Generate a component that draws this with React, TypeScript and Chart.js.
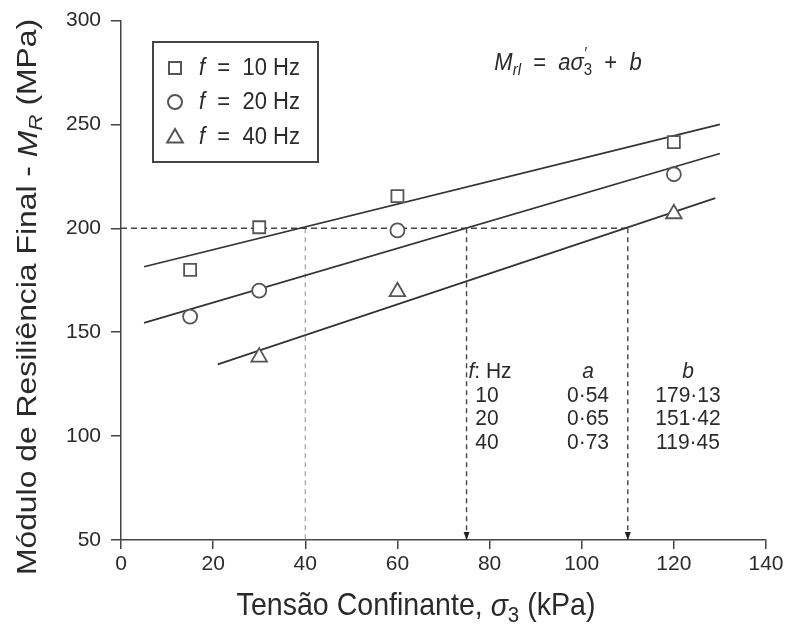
import React, { useEffect, useRef } from "react";
import { Chart, registerables } from "chart.js";

Chart.register(...registerables);

// ---- data ----
const sigma10 = [15, 30, 60, 120];
const mr10 = [180, 200.5, 215.5, 241.5];
const sigma20 = [15, 30, 60, 120];
const mr20 = [157.5, 170, 199, 226];
const sigma40 = [30, 60, 120];
const mr40 = [138, 169.5, 207];

const fit10X = [5, 130];
const fit10Y = [181.5, 250];
const fit20X = [5, 130];
const fit20Y = [154.5, 236];
const fit40X = [21, 129];
const fit40Y = [134.5, 214.5];

const guideLevel = 200;
const guideHX = [0, 110];
const guideVX = [40, 75, 110];
const axisMinY = 50;

const xTicks = [0, 20, 40, 60, 80, 100, 120, 140];
const yTicks = [50, 100, 150, 200, 250, 300];

const legendLabels = ["10", "20", "40"];
const tableF = ["10", "20", "40"];
const tableA = ["0·54", "0·65", "0·73"];
const tableB = ["179·13", "151·42", "119·45"];

const FONT = "'Liberation Sans', Arial, Helvetica, sans-serif";
const INK = "#2a2a2a";
const AXIS = "#444";
const MARK = "#555";

type Seg = { t: string; i?: boolean; sub?: boolean; sup?: boolean; stay?: boolean };

function segFont(s: Seg, size: number) {
  const sz = s.sub || s.sup ? Math.round(size * 0.7) : size;
  return `${s.i ? "italic " : ""}${sz}px ${FONT}`;
}

function drawRich(
  ctx: CanvasRenderingContext2D,
  segs: Seg[],
  x: number,
  y: number,
  size: number,
  align: "left" | "center" = "center",
  sx = 1,
  sy = 1
) {
  let w = 0;
  const widths = segs.map((s) => {
    ctx.font = segFont(s, size);
    const m = s.stay ? 0 : ctx.measureText(s.t).width;
    w += m;
    return m;
  });
  ctx.save();
  ctx.translate(x, y);
  ctx.scale(sx, sy);
  let cx = align === "center" ? -w / 2 : 0;
  ctx.textAlign = "left";
  ctx.textBaseline = "middle";
  segs.forEach((s, k) => {
    ctx.font = segFont(s, size);
    let dy = 0;
    if (s.sub) dy = size * 0.3;
    if (s.sup) dy = -size * 0.35;
    ctx.fillText(s.t, cx, dy);
    cx += widths[k];
  });
  ctx.restore();
}

function marker(ctx: CanvasRenderingContext2D, style: string, r: number, x: number, y: number) {
  ctx.beginPath();
  if (style === "rect") {
    const h = r * Math.SQRT1_2;
    ctx.rect(x - h, y - h, 2 * h, 2 * h);
  } else if (style === "circle") {
    ctx.arc(x, y, r, 0, Math.PI * 2);
  } else {
    for (let k = 0; k < 3; k++) {
      const a = -Math.PI / 2 + (k * 2 * Math.PI) / 3;
      const px = x + Math.cos(a) * r;
      const py = y + Math.sin(a) * r;
      if (k === 0) ctx.moveTo(px, py);
      else ctx.lineTo(px, py);
    }
    ctx.closePath();
  }
  ctx.fill();
  ctx.stroke();
}

const pairs = (xs: number[], ys: number[]) => xs.map((x, k) => ({ x, y: ys[k] }));

const annotations = {
  id: "annotations",
  afterDraw(chart: any) {
    const ctx: CanvasRenderingContext2D = chart.ctx;
    const xs = chart.scales.x;
    const ys = chart.scales.y;
    ctx.save();
    ctx.fillStyle = INK;

    // arrowheads on the vertical guides
    guideVX.slice(1).forEach((v) => {
      const px = xs.getPixelForValue(v);
      const py = ys.getPixelForValue(axisMinY);
      ctx.beginPath();
      ctx.moveTo(px, py);
      ctx.lineTo(px - 3, py - 8);
      ctx.lineTo(px + 3, py - 8);
      ctx.closePath();
      ctx.fillStyle = "#222";
      ctx.fill();
    });
    ctx.fillStyle = INK;

    // y title
    ctx.save();
    ctx.translate(29, 297);
    ctx.rotate(-Math.PI / 2);
    drawRich(
      ctx,
      [
        { t: "Módulo de Resiliência Final - " },
        { t: "M", i: true },
        { t: "R", i: true, sub: true },
        { t: " (MPa)" },
      ],
      0,
      0,
      27,
      "center",
      1.18,
      1
    );
    ctx.restore();

    // x title
    drawRich(
      ctx,
      [
        { t: "Tensão Confinante, " },
        { t: "σ", i: true },
        { t: "3", sub: true },
        { t: " (kPa)" },
      ],
      416,
      607,
      28,
      "center",
      1.02,
      1.1
    );

    // legend box
    ctx.strokeStyle = AXIS;
    ctx.lineWidth = 2;
    ctx.strokeRect(153, 42, 165, 120);
    const ly = [68, 102, 137];
    const styles = ["rect", "circle", "triangle"];
    const radii = [8.5, 7, 9];
    styles.forEach((st, k) => {
      ctx.save();
      ctx.strokeStyle = MARK;
      ctx.fillStyle = "#fff";
      ctx.lineWidth = 2;
      marker(ctx, st, radii[k], 175, ly[k] + (st === "triangle" ? 1 : 0));
      ctx.restore();
      ctx.fillStyle = INK;
      drawRich(
        ctx,
        [{ t: "f", i: true }, { t: "  =  " }, { t: legendLabels[k] + " Hz" }],
        199,
        ly[k],
        22,
        "left",
        1,
        1.08
      );
    });

    // equation
    drawRich(
      ctx,
      [
        { t: "M", i: true },
        { t: "rl", i: true, sub: true },
        { t: "  =  " },
        { t: "aσ", i: true },
        { t: "′", i: true, sup: true, stay: true },
        { t: "3", sub: true },
        { t: "  +  " },
        { t: "b", i: true },
      ],
      568,
      63,
      22,
      "center",
      1,
      1.08
    );

    // table
    const colF = 490;
    const colA = 588;
    const colB = 688;
    drawRich(ctx, [{ t: "f", i: true }, { t: ": Hz" }], colF, 372, 21, "center", 1, 1.08);
    drawRich(ctx, [{ t: "a", i: true }], colA, 372, 21, "center", 1, 1.08);
    drawRich(ctx, [{ t: "b", i: true }], colB, 372, 21, "center", 1, 1.08);
    const rowsY = [396, 419, 443];
    rowsY.forEach((ry, k) => {
      drawRich(ctx, [{ t: tableF[k] }], colF - 3, ry, 21, "center", 1, 1.08);
      drawRich(ctx, [{ t: tableA[k] }], colA, ry, 21, "center", 1, 1.08);
      drawRich(ctx, [{ t: tableB[k] }], colB, ry, 21, "center", 1, 1.08);
    });

    ctx.restore();
  },
};

export default function App() {
  const ref = useRef<HTMLCanvasElement>(null);
  useEffect(() => {
    if (!ref.current) return;
    const lineDs = (xs: number[], ys: number[]) => ({
      type: "line" as const,
      data: pairs(xs, ys),
      borderColor: "#333",
      borderWidth: 1.7,
      pointRadius: 0,
      order: 5,
    });
    const guideV = (x: number, k: number) => ({
      type: "line" as const,
      data: [
        { x, y: guideLevel },
        { x, y: axisMinY },
      ],
      borderColor: k === 0 ? "#a0a0a0" : "#444",
      borderWidth: k === 0 ? 1.2 : 1.4,
      borderDash: [5, 4],
      pointRadius: 0,
      order: 6,
    });
    const scatterDs = (xs: number[], ys: number[], style: string, r: number) => ({
      type: "scatter" as const,
      data: pairs(xs, ys),
      pointStyle: style,
      pointRadius: r,
      pointBorderColor: MARK,
      pointBackgroundColor: "#fff",
      pointBorderWidth: 1.8,
      order: 1,
    });
    const chart = new Chart(ref.current, {
      type: "scatter",
      data: {
        datasets: [
          lineDs(fit10X, fit10Y),
          lineDs(fit20X, fit20Y),
          lineDs(fit40X, fit40Y),
          {
            type: "line",
            data: guideHX.map((x) => ({ x, y: guideLevel })),
            borderColor: "#444",
            borderWidth: 1.4,
            borderDash: [6, 4],
            pointRadius: 0,
            order: 6,
          } as any,
          ...guideVX.map((x, k) => guideV(x, k) as any),
          scatterDs(sigma10, mr10, "rect", 8.5) as any,
          scatterDs(sigma20, mr20, "circle", 7) as any,
          scatterDs(sigma40, mr40, "triangle", 9) as any,
        ],
      },
      options: {
        responsive: false,
        maintainAspectRatio: false,
        animation: false,
        layout: { padding: { left: 0, right: 21, top: 19, bottom: 0 } },
        plugins: { legend: { display: false }, tooltip: { enabled: false } },
        scales: {
          x: {
            type: "linear",
            min: 0,
            max: 140,
            afterBuildTicks: (s: any) => {
              s.ticks = xTicks.map((v) => ({ value: v }));
            },
            afterFit: (s: any) => {
              s.height = 92;
            },
            ticks: { color: INK, font: { family: FONT, size: 21 }, padding: 3, maxRotation: 0 },
            grid: { drawOnChartArea: false, tickLength: 9, color: AXIS, lineWidth: 1.5 },
            border: { color: AXIS, width: 1.5 },
          },
          y: {
            type: "linear",
            min: 50,
            max: 300,
            afterBuildTicks: (s: any) => {
              s.ticks = yTicks.map((v) => ({ value: v }));
            },
            afterFit: (s: any) => {
              s.width = 121;
            },
            ticks: { color: INK, font: { family: FONT, size: 21, lineHeight: 1 }, padding: 10 },
            grid: { drawOnChartArea: false, tickLength: 10, color: AXIS, lineWidth: 1.5 },
            border: { color: AXIS, width: 1.5 },
          },
        },
      },
      plugins: [annotations],
    });
    return () => chart.destroy();
  }, []);
  return (
    <div style={{ position: "absolute", left: 0, top: 0, width: 787, height: 632, background: "#fff" }}>
      <canvas ref={ref} width={787} height={632} style={{ display: "block" }} />
    </div>
  );
}
